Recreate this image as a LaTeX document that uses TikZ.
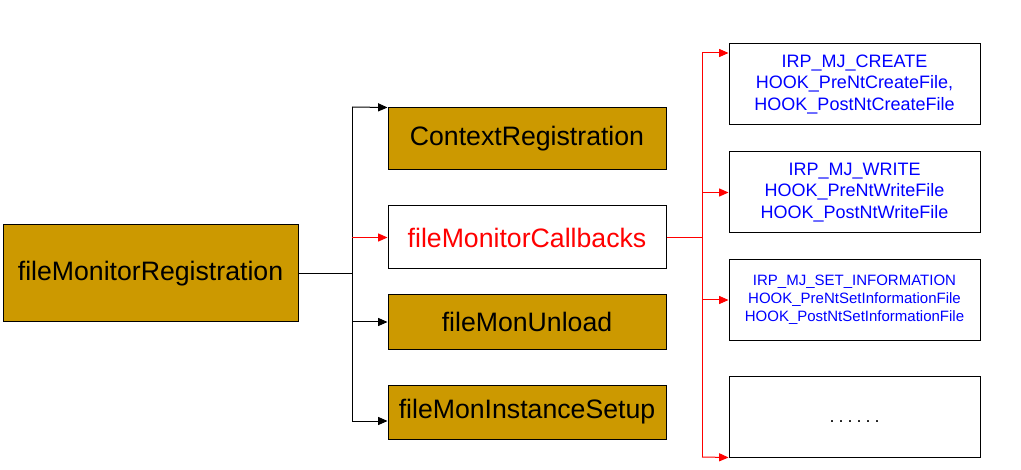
\documentclass[tikz,border=0pt]{standalone}
\usepackage{fontspec}
\setmainfont{Liberation Sans}
\usetikzlibrary{arrows.meta}
\definecolor{gold}{RGB}{204,153,0}
\tikzset{
    box/.style={draw,line width=0.75pt,inner sep=0pt,align=center},
    gbox/.style={box,fill=gold,minimum width=208.5pt,font=\fontsize{20}{24}\selectfont},
    hbox/.style={box,fill=white,minimum width=188.25pt,minimum height=60.75pt,text=blue,
        font=\fontsize{13.5}{16.3}\selectfont},
    arr/.style={-{Triangle[length=7pt,width=6pt]}},
}
\newcommand{\sixdots}{\raisebox{-9pt}{.\kern3pt.\kern3pt.\kern3pt.\kern3pt.\kern3pt.}}
\begin{document}
\begin{tikzpicture}[x=0.75pt,y=-0.75pt,line width=0.75pt]
        \useasboundingbox (0,0) rectangle (1021,470);

        % Left part
        \node[gbox,minimum width=221.25pt,minimum height=72.75pt] (reg) at (150.5,273.5) {fileMonitorRegistration};
        \node[gbox,minimum height=46.5pt] (ctx) at (527,139) {ContextRegistration};
        \node[gbox,fill=white,text=red,minimum height=47.25pt] (cb) at (527,237.5) {fileMonitorCallbacks};
        \node[gbox,minimum height=40.5pt] (unload) at (527,322) {fileMonUnload};
        \node[gbox,minimum height=40.5pt] (setup) at (527,412) {fileMonInstanceSetup};

        \coordinate (lt) at (352,107);
        \coordinate (lb) at (352,421);
        \draw (reg.east) -- (reg.east -| lt);
        \draw (lt) -- (lb);
        \draw[arr] (lt) -- (ctx.north west);
        \draw[arr,red] (cb.west -| lt) -- (cb.west);
        \draw[arr] (unload.west -| lt) -- (unload.west);
        \draw[arr] (lb) -- (lb -| setup.west);

        % IRP hooks
        \node[hbox] (create) at (854.5,84.5) {IRP\_MJ\_CREATE\\HOOK\_PreNtCreateFile,\\HOOK\_PostNtCreateFile};
        \node[hbox] (write) at (854.5,192.5) {IRP\_MJ\_WRITE\\HOOK\_PreNtWriteFile\\HOOK\_PostNtWriteFile};
        \node[hbox,font=\fontsize{11.25}{13.5}\selectfont] (setinfo) at (854.5,300) {IRP\_MJ\_SET\_INFORMATION\\HOOK\_PreNtSetInformationFile\\HOOK\_PostNtSetInformationFile};
        \node[hbox,text=black] (more) at (854.5,416.5) {\sixdots};

        \coordinate (rt) at (702,53);
        \coordinate (rb) at (702,457);
        \draw[red] (cb.east) -- (cb.east -| rt);
        \draw[red] (rt) -- (rb);
        \draw[arr,red] (rt) -- (rt -| create.west);
        \draw[arr,red] (write.west -| rt) -- (write.west);
        \draw[arr,red] (setinfo.west -| rt) -- (setinfo.west);
        \draw[arr,red] (rb) -- (more.south west);
\end{tikzpicture}
\end{document}
